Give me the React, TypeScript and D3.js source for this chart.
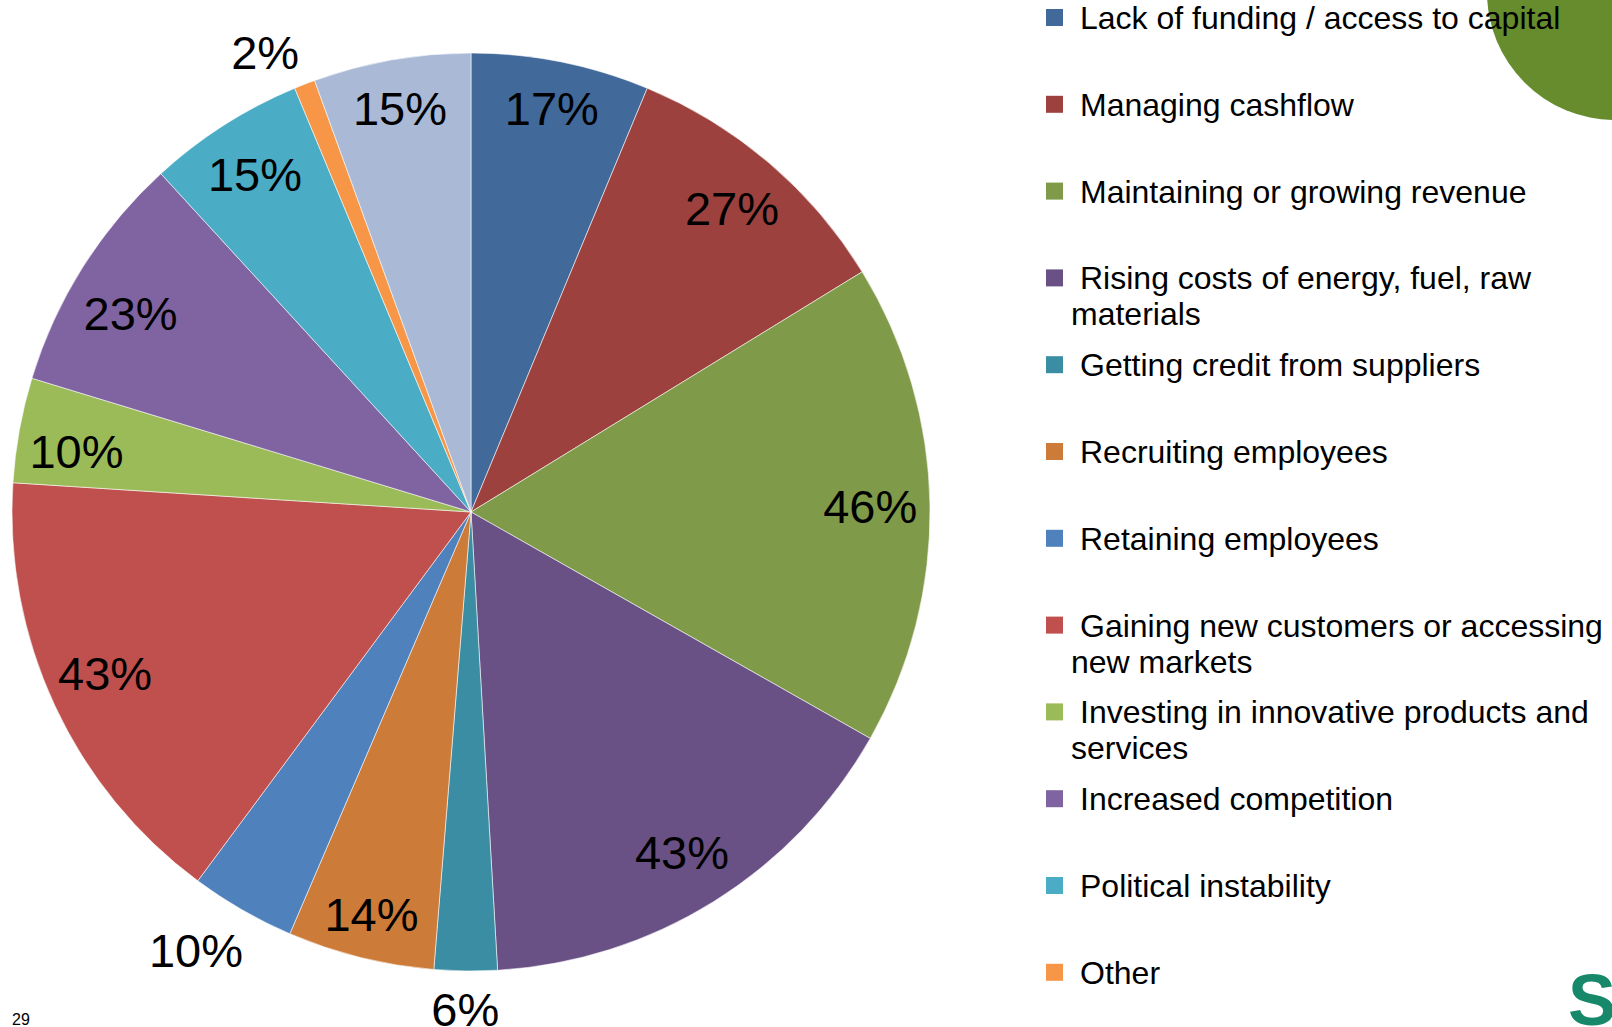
import React from "react";
import * as d3 from "d3";

const categories = [
  "Lack of funding / access to capital",
  "Managing cashflow",
  "Maintaining or growing revenue",
  "Rising costs of energy, fuel, raw materials",
  "Getting credit from suppliers",
  "Recruiting employees",
  "Retaining employees",
  "Gaining new customers or accessing new markets",
  "Investing in innovative products and services",
  "Increased competition",
  "Political instability",
  "Other",
  "None of these",
];
const values = [17, 27, 46, 43, 6, 14, 10, 43, 10, 23, 15, 2, 15];
const labels = ["17%", "27%", "46%", "43%", "6%", "14%", "10%", "43%", "10%", "23%", "15%", "2%", "15%"];
const legendLines = [
  ["Lack of funding / access to capital"],
  ["Managing cashflow"],
  ["Maintaining or growing revenue"],
  ["Rising costs of energy, fuel, raw", "materials"],
  ["Getting credit from suppliers"],
  ["Recruiting employees"],
  ["Retaining employees"],
  ["Gaining new customers or accessing", "new markets"],
  ["Investing in innovative products and", "services"],
  ["Increased competition"],
  ["Political instability"],
  ["Other"],
  ["None of these"],
];
const colors = [
  "#416A9B", "#9D413E", "#7F9A48", "#695185", "#3B8DA3", "#CC7B38",
  "#4F81BD", "#C0504D", "#9BBB59", "#8064A2", "#4BACC6", "#F79646", "#AAB9D6",
];

// label layout (Excel "best fit"): radius as fraction of R, angular nudge in degrees
const labelRadius = [0.9, 0.875, 0.87, 0.87, 1.08, 0.9, 1.125, 0.87, 0.87, 0.86, 0.875, 1.1, 0.895];
const labelNudge = [0, 0, 0, 0, 0, 0, 2.3, 1.3, -1.4, -1.8, 0, -2.8, 0];

const W = 1612;
const H = 1027;
const cx = 471;
const cy = 512;
const R = 459;
const FONT = "'Liberation Sans', Arial, sans-serif";

export default function App() {
  const pie = d3.pie<number>().sort(null).value((d) => d)(values);
  const arc = d3.arc<d3.PieArcDatum<number>>().innerRadius(0).outerRadius(R);
  const labelPos = (d: d3.PieArcDatum<number>, i: number) => {
    const a = (d.startAngle + d.endAngle) / 2 + (labelNudge[i] * Math.PI) / 180;
    const r = R * labelRadius[i];
    return [Math.sin(a) * r, -Math.cos(a) * r];
  };
  const legendY = d3.scaleLinear().domain([0, 1]).range([29, 29 + 86.8]);

  return (
    <svg
      width={W}
      height={H}
      style={{ position: "absolute", left: 0, top: 0, background: "#fff", overflow: "hidden" }}
      fontFamily={FONT}
    >
      <rect x={0} y={0} width={W} height={H} fill="#fff" />
      <circle cx={1615} cy={-8} r={128} fill="#678C2D" />
      <g transform={`translate(${cx},${cy})`}>
        {pie.map((d, i) => (
          <path key={i} d={arc(d) || ""} fill={colors[i]} stroke="#ffffff" strokeOpacity={0.7} strokeWidth={0.8} />
        ))}
        {pie.map((d, i) => {
          const [x, y] = labelPos(d, i);
          return (
            <text key={i} x={x} y={y} dy="0.38em" textAnchor="middle" fontSize={47} fill="#000">
              {labels[i]}
            </text>
          );
        })}
      </g>
      <g>
        {categories.map((c, i) => {
          const y = legendY(i);
          const lines = legendLines[i];
          return (
            <g key={c}>
              <rect x={1046} y={y - 20} width={17} height={17} fill={colors[i]} />
              <text x={1080} y={y} fontSize={32} fill="#000">
                {lines[0]}
              </text>
              {lines.slice(1).map((l, j) => (
                <text key={j} x={1071} y={y + 36 * (j + 1)} fontSize={32} fill="#000">
                  {l}
                </text>
              ))}
            </g>
          );
        })}
      </g>
      <text x={12} y={1025} fontSize={16} fill="#000">29</text>
      <text x={1568} y={1025} fontSize={72} fontWeight="bold" fill="#17886A">S</text>
    </svg>
  );
}
